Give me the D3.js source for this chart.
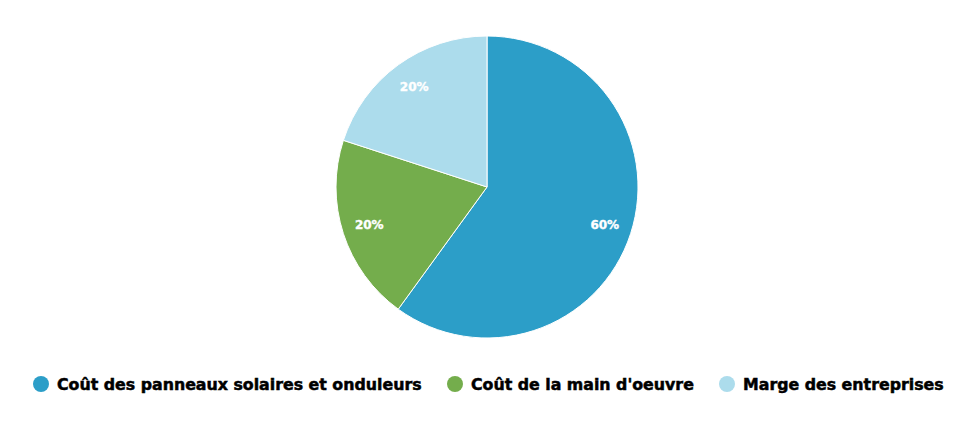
<!DOCTYPE html>
<html>
<head>
<meta charset="utf-8">
<script src="https://cdn.jsdelivr.net/npm/d3@7"></script>
<style>
  body { margin: 0; background: #fff; }
</style>
</head>
<body>
<div id="canvas"></div>
<script>
"use strict"

/* data */
let categories = ["Coût des panneaux solaires et onduleurs", "Coût de la main d'oeuvre", "Marge des entreprises"];
let shares = [60, 20, 20];
let colors = ["#2c9ec8", "#74ad4c", "#acdcec"];

let drawing = d3.select("#canvas")
    .append("svg")
    .attr("width", 980)
    .attr("height", 432);

/* ---------- PIE ---------- */
let radius = 151;
let pieGroup = drawing.append("g")
    .attr("transform", "translate(487,187)");

let pie = d3.pie().sort(null).value(d => d);
let arc = d3.arc().innerRadius(0).outerRadius(radius);
let labelArc = d3.arc().innerRadius(radius * 0.82).outerRadius(radius * 0.82);

let slices = pie(shares);

pieGroup.selectAll("path")
    .data(slices)
    .join("path")
    .attr("d", arc)
    .attr("fill", (d, i) => colors[i])
    .attr("stroke", "#fff")
    .attr("stroke-width", 1);

let total = d3.sum(shares);
pieGroup.selectAll("text")
    .data(slices)
    .join("text")
    .attr("transform", d => "translate(" + labelArc.centroid(d) + ")")
    .attr("text-anchor", "middle")
    .attr("dy", "0.35em")
    .attr("fill", "#fff")
    .attr("stroke", "#fff")
    .attr("stroke-width", 0.4)
    .attr("font-family", "DejaVu Sans, sans-serif")
    .attr("font-weight", "bold")
    .attr("font-size", 12)
    .text(d => Math.round(d.value / total * 100) + "%");

/* ---------- LEGEND ---------- */
let legendX = [41, 455, 727];
let legend = drawing.append("g");

let items = legend.selectAll("g")
    .data(categories)
    .join("g")
    .attr("transform", (d, i) => "translate(" + legendX[i] + ",384)");

items.append("circle")
    .attr("r", 8)
    .attr("fill", (d, i) => colors[i]);

items.append("text")
    .attr("x", 16)
    .attr("dy", "0.36em")
    .attr("fill", "#000")
    .attr("stroke", "#000")
    .attr("stroke-width", 0.5)
    .attr("font-family", "DejaVu Sans, sans-serif")
    .attr("font-weight", "bold")
    .attr("font-size", 15.8)
    .text(d => d);
</script>
</body>
</html>
